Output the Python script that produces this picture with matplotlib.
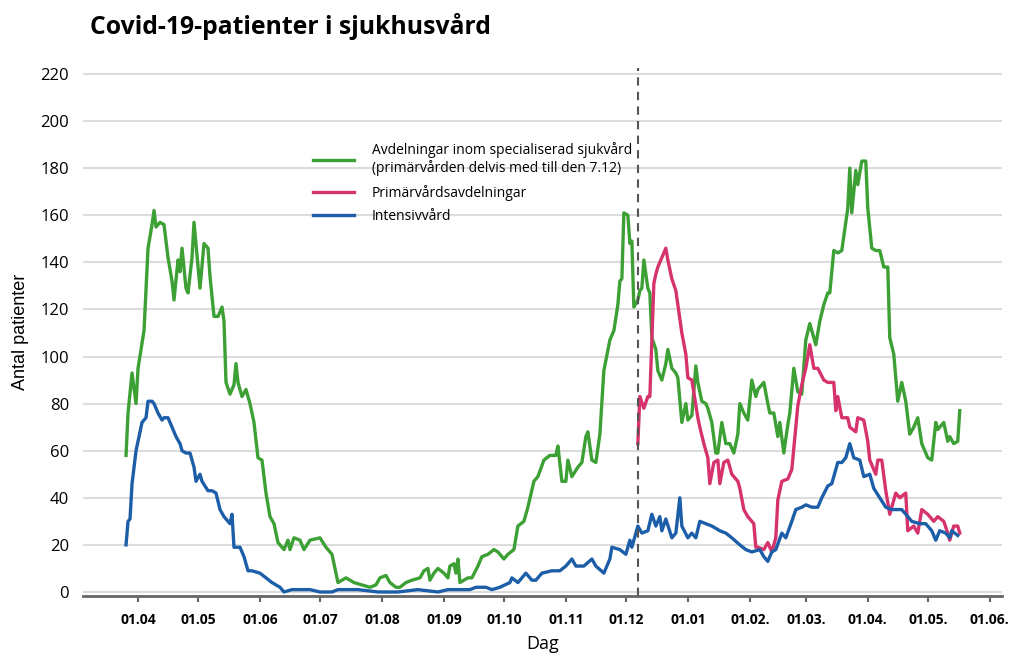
import pandas as pd
import matplotlib
matplotlib.use("Agg")
import matplotlib.pyplot as plt
import matplotlib.dates as mdates

# dagar räknat från 1.4.2020
start = pd.Timestamp("2020-04-01")

green_days = [-6, -5, -3, -1, 0, 3, 5, 7, 8, 9, 11, 13, 15, 17, 18, 20, 21, 22, 24, 25,
              27, 28, 30, 31, 33, 35, 36, 38, 40, 42, 43, 44, 46, 48, 49, 50, 52, 54, 56, 58,
              60, 62, 64, 66, 68, 70, 73, 75, 76, 78, 81, 83, 86, 91, 94, 97, 100, 104, 106, 108,
              112, 116, 119, 121, 124, 126, 129, 131, 134, 137, 141, 143, 145, 146, 148, 150, 153, 155, 156, 158,
              159, 160, 161, 165, 167, 170, 172, 175, 178, 180, 183, 185, 188, 190, 193, 195, 198, 200, 203, 206,
              209, 210, 212, 214, 215, 217, 220, 222, 224, 225, 227, 229, 231, 233, 236, 238, 240, 241, 242, 243,
              245, 246, 247, 248, 250, 251, 252, 253, 255, 256, 257, 259, 260, 262, 264, 265, 267, 269, 270, 272,
              274, 275, 277, 279, 280, 282, 284, 285, 287, 289, 290, 292, 294, 296, 298, 300, 301, 303, 305, 307,
              309, 310, 313, 315, 316, 318, 320, 321, 323, 325, 326, 328, 330, 332, 334, 336, 339, 341, 343, 345,
              346, 348, 350, 352, 355, 356, 357, 359, 360, 362, 364, 365, 367, 369, 371, 373, 375, 376, 378, 380,
              382, 384, 386, 388, 390, 392, 395, 397, 399, 400, 403, 405, 406, 408, 410, 411]
green_vals = [58, 76, 93, 80, 95, 111, 146, 156, 162, 155, 157, 156, 142, 132, 124, 141, 136, 146, 129, 127,
              142, 157, 138, 129, 148, 146, 134, 117, 117, 121, 115, 89, 84, 88, 97, 89, 83, 86, 80, 72,
              57, 56, 42, 32, 29, 21, 18, 22, 18, 23, 22, 18, 22, 23, 19, 16, 4, 6, 5, 4,
              3, 2, 3, 6, 7, 4, 2, 2, 4, 5, 6, 9, 10, 5, 8, 10, 8, 6, 11, 12,
              8, 14, 4, 6, 6, 11, 15, 16, 18, 17, 14, 16, 18, 28, 30, 36, 47, 49, 56, 58,
              58, 62, 47, 47, 56, 49, 53, 55, 66, 68, 56, 55, 67, 94, 107, 111, 122, 132, 133, 161,
              160, 148, 149, 121, 124, 128, 129, 141, 129, 127, 108, 103, 94, 90, 97, 103, 95, 93, 91, 72,
              80, 73, 75, 96, 89, 81, 80, 78, 72, 59, 59, 72, 63, 63, 59, 67, 80, 76, 73, 90,
              83, 86, 89, 80, 76, 76, 66, 72, 59, 71, 76, 95, 85, 84, 107, 114, 105, 115, 122, 127,
              127, 145, 144, 145, 163, 180, 161, 179, 173, 183, 183, 163, 146, 145, 145, 138, 138, 108, 101, 81,
              89, 81, 67, 70, 74, 63, 57, 56, 72, 69, 72, 64, 66, 63, 64, 77]

pink_days = [250, 251, 253, 255, 256, 258, 259, 260, 262, 264, 265, 267, 269, 270, 272, 274, 275, 277, 280, 281,
             283, 285, 286, 288, 290, 291, 293, 295, 297, 300, 301, 303, 305, 308, 309, 310, 313, 315, 317, 319,
             320, 322, 325, 327, 330, 332, 334, 336, 338, 340, 343, 345, 348, 349, 350, 352, 355, 356, 359, 360,
             363, 365, 366, 369, 370, 372, 374, 376, 379, 381, 384, 385, 388, 390, 392, 395, 398, 400, 403, 405,
             406, 408, 410, 411]
pink_vals = [63, 83, 78, 83, 83, 131, 135, 138, 142, 146, 141, 133, 128, 122, 110, 101, 91, 90, 74, 70,
             63, 57, 46, 55, 56, 46, 55, 56, 50, 47, 44, 35, 32, 29, 19, 19, 18, 21, 17, 23,
             39, 47, 48, 52, 79, 88, 95, 105, 95, 95, 90, 89, 89, 77, 83, 74, 74, 70, 68, 74,
             73, 64, 56, 50, 56, 56, 43, 33, 42, 40, 42, 26, 28, 25, 35, 33, 30, 32, 30, 25,
             22, 28, 28, 25]

blue_days = [-6, -5, -4, -3, -1, 2, 4, 5, 7, 8, 10, 12, 13, 15, 17, 19, 21, 22, 24, 26,
             28, 29, 31, 32, 35, 37, 39, 41, 43, 46, 47, 48, 51, 53, 55, 57, 61, 64, 67, 71,
             73, 77, 86, 91, 97, 100, 110, 120, 130, 140, 150, 155, 166, 169, 174, 177, 181, 186, 187, 190,
             194, 197, 199, 202, 207, 211, 214, 217, 219, 223, 227, 229, 233, 236, 237, 241, 244, 246, 247, 250,
             252, 255, 257, 259, 261, 262, 264, 267, 269, 271, 272, 275, 277, 279, 281, 284, 287, 291, 294, 297,
             301, 304, 307, 311, 313, 315, 317, 319, 322, 324, 327, 329, 332, 334, 337, 340, 342, 345, 347, 350,
             352, 354, 356, 358, 361, 363, 366, 368, 371, 374, 377, 382, 385, 387, 391, 394, 397, 399, 401, 404,
             406, 407, 410]
blue_vals = [20, 30, 31, 46, 60, 72, 74, 81, 81, 80, 76, 73, 74, 74, 70, 66, 63, 60, 59, 59,
             53, 47, 50, 47, 43, 43, 42, 35, 32, 29, 33, 19, 19, 15, 9, 9, 8, 6, 4, 2,
             0, 1, 1, 0, 0, 1, 1, 0, 0, 1, 0, 1, 1, 2, 2, 1, 2, 4, 6, 4,
             8, 5, 5, 8, 9, 9, 11, 14, 11, 11, 14, 11, 8, 14, 19, 18, 16, 22, 19, 28,
             25, 26, 33, 28, 32, 26, 31, 23, 25, 40, 28, 23, 25, 23, 30, 29, 28, 26, 25, 23,
             20, 18, 17, 18, 15, 13, 17, 18, 25, 23, 30, 35, 36, 37, 36, 36, 40, 45, 46, 55,
             55, 57, 63, 57, 56, 49, 50, 44, 40, 36, 35, 35, 32, 30, 29, 29, 26, 22, 26, 25,
             23, 26, 24]

labels = ["Avdelningar inom specialiserad sjukvård\n(primärvården delvis med till den 7.12)",
          "Primärvårdsavdelningar",
          "Intensivvård"]
colors = ["#3da035", "#d6336e", "#1c5ea8"]

tick_dates = pd.date_range("2020-04-01", "2021-06-01", freq="MS")
tick_labels = ["01.04", "01.05", "01.06", "01.07", "01.08", "01.09", "01.10", "01.11",
               "01.12", "01.01", "01.02.", "01.03.", "01.04.", "01.05.", "01.06."]
cut_date = pd.Timestamp("2020-12-07")


def to_dates(days):
    return start + pd.to_timedelta(days, unit="D")


fig = plt.figure(figsize=(10.14, 6.55), dpi=100)
ax = fig.add_axes([0.0819, 0.0901, 0.906, 0.806])

ax.plot(to_dates(green_days), green_vals, color=colors[0], lw=2.4, label=labels[0])
ax.plot(to_dates(pink_days), pink_vals, color=colors[1], lw=2.4, label=labels[1])
ax.plot(to_dates(blue_days), blue_vals, color=colors[2], lw=2.4, label=labels[2])

ax.axvline(cut_date, color="#555555", lw=1.5, ls=(0, (4, 3)))

ax.set_ylim(-1.7, 222.5)
ax.set_xlim(start - pd.Timedelta(days=27.5), start + pd.Timedelta(days=432))
ax.set_yticks(range(0, 221, 20))
ax.set_xticks(tick_dates)
ax.set_xticklabels(tick_labels, fontsize=10, fontweight="bold", family="Open Sans")
for t in ax.get_yticklabels():
    t.set_fontsize(12)
    t.set_family("Open Sans")

ax.grid(axis="y", color="#dcdcdc", lw=1.5)
ax.set_axisbelow(True)
for s in ["left", "right", "top"]:
    ax.spines[s].set_visible(False)
ax.spines["bottom"].set_color("#666666")
ax.spines["bottom"].set_linewidth(2)
ax.tick_params(axis="y", length=0, pad=10)
ax.tick_params(axis="x", length=4, width=1.5, color="#666666", pad=8)

ax.set_ylabel("Antal patienter", fontsize=13, family="Liberation Sans", labelpad=8)
ax.set_xlabel("Dag", fontsize=13, family="Open Sans", labelpad=6)

fig.text(0.089, 0.960, "Covid-19-patienter i sjukhusvård", fontsize=17.8, fontweight="bold",
         family="Open Sans", va="center", ha="left")

ax.legend(loc="upper left", bbox_to_anchor=(0.237, 0.884), frameon=False,
          handlelength=2.9, handletextpad=1.3, labelspacing=0.6,
          prop={"family": "Open Sans", "size": 10})

fig.savefig("out.png", dpi=100)
